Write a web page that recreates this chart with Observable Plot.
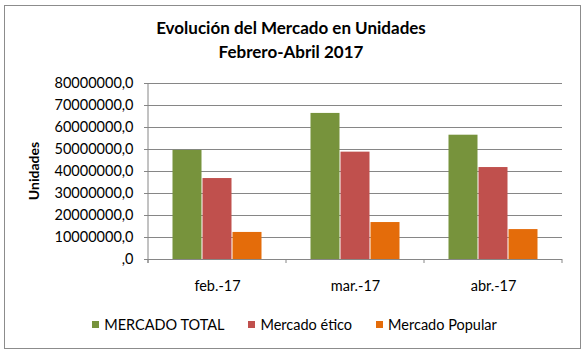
<!DOCTYPE html>
<html>
<head>
<meta charset="utf-8">
<script src="https://cdn.jsdelivr.net/npm/d3@7"></script>
<script src="https://cdn.jsdelivr.net/npm/@observablehq/plot@0.6"></script>
<style>
  body { margin: 0; background: #fff; font-family: Lato, "Open Sans", sans-serif; }
  #wrap { position: relative; width: 587px; height: 355px; overflow: hidden; }
  #border { position: absolute; left: 4px; top: 5px; width: 577px; height: 344px; border: 1px solid #8c8c8c; box-sizing: border-box; }
  .title { position: absolute; left: 0; width: 582px; text-align: center; font-weight: bold; font-size: 17px; color: #000; line-height: 20px; }
  #ylab { position: absolute; left: 33px; top: 171px; transform: translate(-50%, -50%) rotate(-90deg); font-weight: bold; font-size: 14px; white-space: nowrap; }
  #chart { position: absolute; left: 0; top: 0; }
  #legend { position: absolute; left: 0; width: 587px; top: 316px; display: flex; justify-content: center; gap: 24px; font-size: 14.5px; padding-left: 2px; box-sizing: border-box; }
  #legend .item { display: flex; align-items: center; gap: 5px; }
  #legend .sw { width: 7px; height: 7px; display: inline-block; }
</style>
</head>
<body>
<div id="wrap">
  <div id="border"></div>
  <div id="chart"></div>
  <div class="title" style="top:18px">Evolución del Mercado en Unidades</div>
  <div class="title" style="top:42px">Febrero-Abril 2017</div>
  <div id="ylab">Unidades</div>
  <div id="legend"></div>
</div>
<script>
const months = ["feb.-17", "mar.-17", "abr.-17"];
const series = ["MERCADO TOTAL", "Mercado ético", "Mercado Popular"];
const mercadoTotal = [49600000, 66400000, 56500000];
const mercadoEtico = [36800000, 48800000, 41800000];
const mercadoPopular = [12300000, 16800000, 13600000];
const yTicks = [0, 10000000, 20000000, 30000000, 40000000, 50000000, 60000000, 70000000, 80000000];
const colors = ["#77933C", "#C0504D", "#E46C0A"];

const seriesValues = [mercadoTotal, mercadoEtico, mercadoPopular];
const data = months.flatMap((m, i) => series.map((s, j) => ({month: m, series: s, value: seriesValues[j][i]})));
const fmt = d => d === 0 ? ",0" : d + ",0";
const gridColor = "#868686";

const chart = Plot.plot({
  width: 587,
  height: 300,
  marginTop: 83,
  marginBottom: 41,
  marginLeft: 147,
  marginRight: 25,
  style: {fontFamily: "Lato, sans-serif", fontSize: "14.5px", color: "#000", background: "transparent", overflow: "visible"},
  fx: {domain: months, padding: 0, label: null},
  x: {domain: series, axis: null, paddingInner: 0, paddingOuter: 0.78},
  y: {domain: [0, 80000000], label: null},
  color: {domain: series, range: colors},
  marks: [
    Plot.gridY(yTicks, {stroke: gridColor, strokeOpacity: 1}),
    Plot.barY(data, {fx: "month", x: "series", y: "value", fill: "series", insetLeft: 0.5, insetRight: 0.5}),
    Plot.ruleY([0], {stroke: gridColor}),
    Plot.axisY(yTicks, {tickSize: 4, tickPadding: 11, tickFormat: fmt, stroke: gridColor, label: null}),
    Plot.axisFx({anchor: "bottom", tickSize: 0, tickPadding: 21, label: null})
  ]
});
document.getElementById("chart").appendChild(chart);

// axis line and category boundary ticks from the chart's own scales
const fx = chart.scale("fx"), y = chart.scale("y");
const svg = d3.select(chart);
const y0 = y.apply(0), yTop = y.apply(80000000);
const left = fx.apply(months[0]);
svg.append("line").attr("x1", left).attr("x2", left).attr("y1", yTop).attr("y2", y0 + 4).attr("stroke", gridColor);
const bounds = months.map(m => fx.apply(m)).concat([fx.apply(months[months.length - 1]) + fx.bandwidth]);
bounds.forEach(b => svg.append("line").attr("x1", b).attr("x2", b).attr("y1", y0).attr("y2", y0 + 4).attr("stroke", gridColor));

const legend = d3.select("#legend");
series.forEach((s, i) => {
  const it = legend.append("div").attr("class", "item");
  it.append("span").attr("class", "sw").style("background", colors[i]);
  it.append("span").text(s);
});
</script>
</body>
</html>
